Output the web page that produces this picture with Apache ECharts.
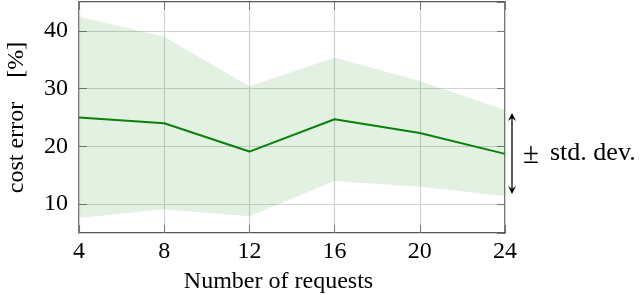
<!DOCTYPE html>
<html><head><meta charset="utf-8">
<script src="https://cdn.jsdelivr.net/npm/echarts@6/dist/echarts.min.js"></script>
<style>html,body{margin:0;padding:0;background:#fff}#c{width:640px;height:295px}</style>
</head><body><div id="c"></div>
<script>
const requests = [4, 8, 12, 16, 20, 24];
const meanError = [25.0, 24.0, 19.1, 24.7, 22.3, 18.7];
const upperError = [42.5, 39.0, 30.4, 35.4, 31.3, 26.3];
const lowerError = [7.6, 9.1, 7.9, 14.0, 13.0, 11.4];

const F = 'Liberation Serif';
const chart = echarts.init(document.getElementById('c'), null, {renderer: 'canvas'});
const bandData = requests.map((x, i) => [x, lowerError[i], upperError[i]]);
const meanData = requests.map((x, i) => [x, meanError[i]]);
const tickStyle = {show: true, inside: true, length: 8, lineStyle: {color: '#777', width: 1}};
chart.setOption({
  animation: false,
  grid: {left: 79, right: 135, top: 2, bottom: 62, show: true, borderColor: '#222', borderWidth: 1.3,
         backgroundColor: 'transparent', containLabel: false, outerBoundsMode: 'none'},
  xAxis: [{
    type: 'value', min: 4, max: 24, interval: 4,
    name: 'Number of requests', nameLocation: 'middle', nameGap: 37, nameMoveOverlap: false,
    nameTextStyle: {fontFamily: F, fontSize: 24, color: '#000', padding: [0, 27, 0, 0]},
    axisLine: {show: false}, axisTick: tickStyle,
    axisLabel: {fontFamily: F, fontSize: 24, color: '#000', margin: 7},
    splitLine: {show: true, lineStyle: {color: '#d2d2d2', width: 1.2}}
  }, {
    type: 'value', position: 'top', min: 4, max: 24, interval: 4,
    axisLine: {show: false}, axisTick: tickStyle, axisLabel: {show: false}, splitLine: {show: false}
  }],
  yAxis: [{
    type: 'value', min: 5, max: 45, splitNumber: 4,
    name: 'cost error    [%]', nameLocation: 'middle', nameGap: 50, nameRotate: 90, nameMoveOverlap: false,
    nameTextStyle: {fontFamily: F, fontSize: 24, color: '#000'},
    axisLine: {show: false}, axisTick: tickStyle,
    axisLabel: {fontFamily: F, fontSize: 24, color: '#000', margin: 11, showMinLabel: false, showMaxLabel: false},
    splitLine: {show: true, lineStyle: {color: '#d2d2d2', width: 1.2}}
  }, {
    type: 'value', position: 'right', min: 5, max: 45, splitNumber: 4,
    axisLine: {show: false}, axisTick: tickStyle, axisLabel: {show: false}, splitLine: {show: false}
  }],
  series: [{
    type: 'custom', silent: true, data: bandData, z: 1,
    encode: {x: 0, y: [1, 2]},
    renderItem: function (params, api) {
      if (params.dataIndex !== 0) return null;
      const top = bandData.map(d => api.coord([d[0], d[2]]));
      const bot = bandData.slice().reverse().map(d => api.coord([d[0], d[1]]));
      return {
        type: 'polygon',
        shape: {points: top.concat(bot)},
        style: {fill: 'rgba(0,128,0,0.11)', stroke: 'none'}
      };
    }
  }, {
    type: 'line', data: meanData, symbol: 'none', z: 3,
    lineStyle: {color: '#0a800a', width: 2}
  }],
  graphic: [{
    type: 'line', shape: {x1: 512, y1: 118, x2: 512, y2: 189},
    style: {stroke: '#000', lineWidth: 1.3}
  }, {
    type: 'polygon', shape: {points: [[512, 113], [508, 121], [512, 118], [516, 121]]},
    style: {fill: '#000'}
  }, {
    type: 'polygon', shape: {points: [[512, 194], [508, 186], [512, 189], [516, 186]]},
    style: {fill: '#000'}
  }, {
    type: 'text', left: 523, top: 141,
    style: {text: '±', fontFamily: F, fontSize: 29, fill: '#000'}
  }, {
    type: 'text', left: 550, top: 140,
    style: {text: 'std. dev.', fontFamily: F, fontSize: 26, fill: '#000'}
  }]
});
</script></body></html>
